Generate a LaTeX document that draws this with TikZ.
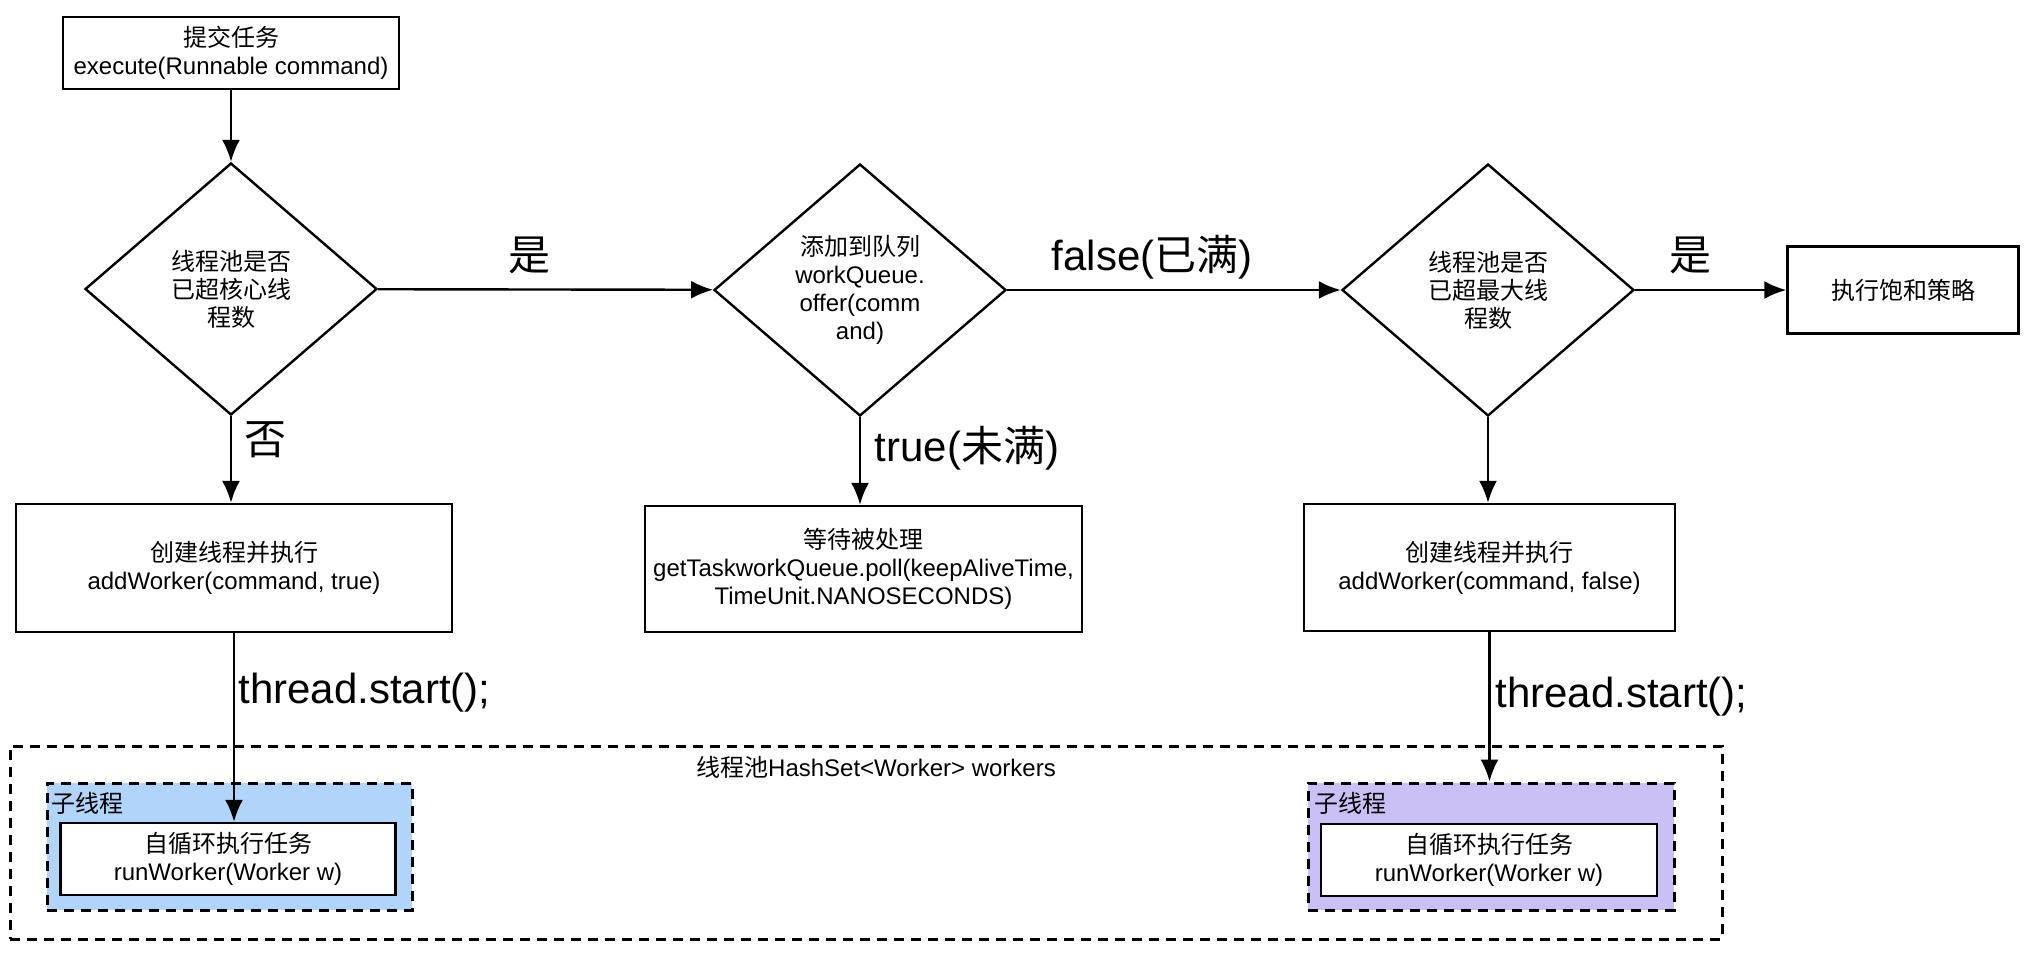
\documentclass[tikz,border=0pt]{standalone}
\usepackage{fontspec}
\setmainfont{Liberation Sans}
\newfontfamily\cjk{Noto Sans CJK SC}
\usepackage{tikz}
\usetikzlibrary{shapes.geometric, arrows.meta}
\definecolor{workerblue}{HTML}{B1D5FA}
\definecolor{workerpurple}{HTML}{CBC0F6}
\tikzset{stepbox/.style={rectangle, draw, line width=1.2pt, align=center, inner sep=0pt}}
\tikzset{decide/.style={diamond, draw, line width=1.2pt, align=center, inner sep=0pt,
minimum width=146pt, minimum height=126pt}}
\tikzset{groupbox/.style={rectangle, draw, dash pattern=on 5pt off 3.5pt, line width=1.5pt}}
\tikzset{flow/.style={-{Latex[length=11pt, width=9pt]}, line width=1.2pt}}
\tikzset{biglabel/.style={inner sep=0pt, font=\fontsize{21}{25}\selectfont}}

\begin{document}
\begin{tikzpicture}[
x=0.5pt, y=-0.5pt,
font=\fontsize{12}{14}\selectfont
]
\useasboundingbox (0,0) rectangle (2030,960);

\node[stepbox,
minimum width = 168pt,
minimum height = 36pt] (submit) at (231,53) {{\cjk 提交任务}\\execute(Runnable command)};

\node[decide] (core) at (231,289) {{\cjk 线程池是否}\\{\cjk 已超核心线}\\{\cjk 程数}};
\node[decide] (queue) at (860,290) {{\cjk 添加到队列}\\workQueue.\\offer(comm\\and)};
\node[decide] (max) at (1488,290) {{\cjk 线程池是否}\\{\cjk 已超最大线}\\{\cjk 程数}};

\node[stepbox,
minimum width = 115.5pt,
minimum height = 43.5pt] (reject) at (1903,290) {\cjk 执行饱和策略};

\node[stepbox,
minimum width = 218pt,
minimum height = 64pt] (addcore) at (234,568) {{\cjk 创建线程并执行}\\addWorker(command, true)};

\node[stepbox,
minimum width = 218.5pt,
minimum height = 63pt] (wait) at (863.5,569) {{\cjk 等待被处理}\\getTaskworkQueue.poll(keepAliveTime,\\TimeUnit.NANOSECONDS)};

\node[stepbox,
minimum width = 185.5pt,
minimum height = 63.5pt] (addmax) at (1489.5,567.5) {{\cjk 创建线程并执行}\\addWorker(command, false)};

% worker pool
\node[groupbox,
minimum width = 856pt,
minimum height = 96.5pt] (pool) at (866,842.5) {};
\node [] (pooltext) at (876,767) {{\cjk 线程池}HashSet<Worker> workers};

\node[groupbox, fill = workerblue,
minimum width = 182.5pt,
minimum height = 63.5pt] (worker1) at (229.5,846.5) {};
\node [anchor = west, inner sep = 0pt] (worker1text) at (51,803) {\cjk 子线程};
\node[stepbox, fill = white,
minimum width = 167.5pt,
minimum height = 36pt] (task1) at (228,859) {{\cjk 自循环执行任务}\\runWorker(Worker w)};

\node[groupbox, fill = workerpurple,
minimum width = 183pt,
minimum height = 63.5pt] (worker2) at (1491,846.5) {};
\node [anchor = west, inner sep = 0pt] (worker2text) at (1314,803) {\cjk 子线程};
\node[stepbox, fill = white,
minimum width = 168pt,
minimum height = 36pt] (task2) at (1489,860) {{\cjk 自循环执行任务}\\runWorker(Worker w)};

% branch labels
\node [biglabel] (yes1) at (529,255) {\cjk 是};
\node [biglabel] (no1) at (265,440) {\cjk 否};
\node [biglabel] (full) at (1152,257) {false({\cjk 已满})};
\node [biglabel] (notfull) at (967,448) {true({\cjk 未满})};
\node [biglabel] (yes2) at (1690,255) {\cjk 是};
\node [biglabel] (start1) at (364.5,693) {thread.start();};
\node [biglabel] (start2) at (1621.5,697) {thread.start();};

\draw [flow] (submit) -- (core);
\draw [flow] (core) -- (queue);
\draw [flow] (queue) -- (max);
\draw [flow] (max) -- (reject);
\draw [flow] (core) -- (core |- addcore.north);
\draw [flow] (queue) -- (queue |- wait.north);
\draw [flow] (max) -- (max |- addmax.north);
\draw [flow] (addcore.south) -- (addcore.south |- task1.north);
\draw [flow] (addmax.south) -- (addmax.south |- worker2.north);

\end{tikzpicture}
\end{document}
